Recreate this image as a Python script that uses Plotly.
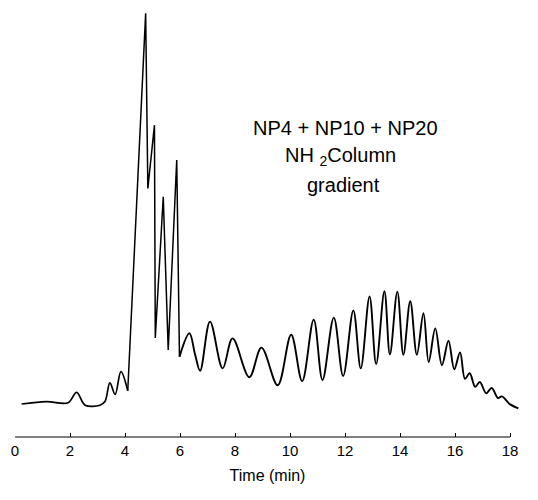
import plotly.graph_objects as go

# Chromatogram vertices (time in min, detector signal in arbitrary units)
time_min = [0.24, 1.15, 1.93, 2.24, 2.55, 3.09, 3.27, 3.45, 3.64, 3.85, 4.10,
            4.75, 4.83, 5.07, 5.10, 5.39, 5.57, 5.88, 5.98,
            6.34, 6.55, 6.73, 7.09, 7.55, 7.91, 8.52, 8.96, 9.55,
            10.04, 10.44, 10.86, 11.18, 11.59, 11.93, 12.30, 12.57, 12.89, 13.13,
            13.43, 13.63, 13.90, 14.12, 14.37, 14.61, 14.85, 15.04, 15.28, 15.52,
            15.76, 15.97, 16.18, 16.36, 16.53, 16.73, 16.90, 17.13, 17.33, 17.56,
            17.70, 18.00, 18.30]
signal = [1.5, 2.1, 1.8, 4.4, 1.2, 1.2, 2.1, 6.8, 3.9, 9.6, 4.8,
          99.2, 55.4, 71.2, 18.0, 53.3, 15.0, 62.5, 13.3,
          19.2, 13.8, 9.8, 22.1, 10.4, 17.9, 8.2, 15.6, 6.2,
          18.8, 7.2, 22.6, 7.5, 23.1, 8.5, 24.9, 10.4, 28.4, 11.5,
          29.7, 13.9, 29.6, 13.8, 27.2, 13.8, 24.2, 12.0, 20.4, 11.2,
          17.3, 10.2, 14.4, 7.8, 9.2, 5.8, 7.0, 4.2, 5.5, 3.0,
          3.4, 1.4, 0.4]

# index ranges: early small peaks, sharp major peaks, oligomer series
seg_bounds = [(0, 11), (10, 19), (18, len(time_min))]

tick_vals = [0, 2, 4, 6, 8, 10, 12, 14, 16, 18]
tick_text = [str(v) for v in tick_vals]
x_title = "Time (min)"
label_lines = ["NP4 + NP10 + NP20", "NH <sub>2</sub>Column", "gradient"]
label_x = [12.0, 11.85, 11.95]
label_y = [70.5, 63.3, 56.2]

FONT = "Liberation Sans, Arial, Helvetica, sans-serif"

fig = go.Figure()
seg_styles = [dict(width=1.7, shape="spline", smoothing=1.0),
              dict(width=1.5, shape="linear"),
              dict(width=1.9, shape="spline", smoothing=1.0)]
for (a, b), st in zip(seg_bounds, seg_styles):
    fig.add_trace(go.Scatter(
        x=time_min[a:b], y=signal[a:b], mode="lines",
        line=dict(color="black", **st),
        hoverinfo="skip", showlegend=False,
    ))

for txt, lx, ly in zip(label_lines, label_x, label_y):
    fig.add_annotation(x=lx, y=ly, xref="x", yref="y", text=txt, showarrow=False,
                       font=dict(family=FONT, size=20, color="black"),
                       xanchor="center", yanchor="middle")

# axis line spanning only 0..18
fig.add_shape(type="line", xref="x", yref="paper", x0=tick_vals[0], x1=tick_vals[-1],
              y0=0, y1=0, line=dict(color="black", width=1.2))

fig.update_layout(
    width=538, height=500,
    margin=dict(l=15, r=18, t=5, b=63),
    paper_bgcolor="white", plot_bgcolor="white",
    font=dict(family=FONT, color="black"),
    xaxis=dict(range=[0, 18.36], tickmode="array", tickvals=tick_vals, ticktext=tick_text,
               ticks="inside", ticklen=4, tickwidth=1, tickcolor="black",
               showline=False, showgrid=False, zeroline=False, automargin=False,
               tickfont=dict(family=FONT, size=15, color="black"),
               ticklabelstandoff=3,
               title=dict(text=x_title, font=dict(family=FONT, size=16, color="black"), standoff=11)),
    yaxis=dict(range=[-6.75, 101.25], visible=False, showgrid=False, zeroline=False,
               automargin=False),
)

fig.write_html("out.html", config={"displayModeBar": False},
               post_script="document.body.style.margin='0';document.body.style.overflow='hidden';")
